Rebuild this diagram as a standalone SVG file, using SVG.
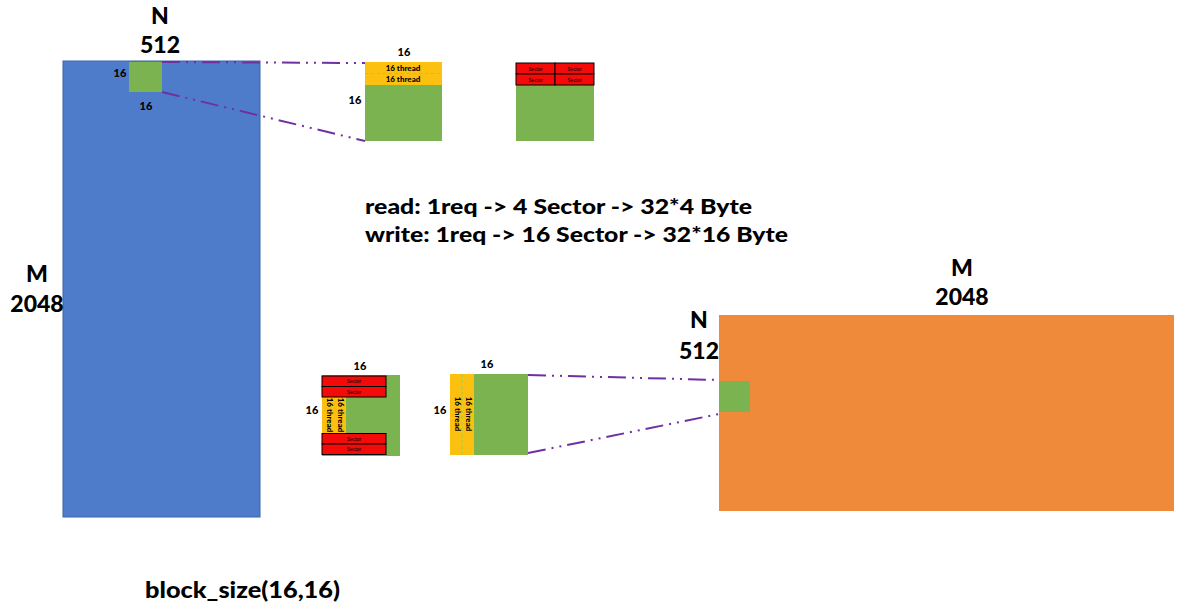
<svg xmlns="http://www.w3.org/2000/svg" width="1188" height="616" viewBox="0 0 1188 616">
<style>
.t{font-family:Lato,"Noto Sans","Liberation Sans",sans-serif;font-weight:900;fill:#000}
.big{font-size:23px}
.mid{font-size:21px}
.sm{font-size:11px}
.th{font-size:8px}
.sec{font-size:5px;font-family:"Liberation Sans",sans-serif;fill:#000}
.green{fill:#7ab34f}
.yel{fill:#fcc010}
.red{fill:#f50a0a;stroke:#000;stroke-width:1}
.conn{stroke:#7030a0;stroke-width:2;fill:none;stroke-dasharray:18 6 2 6 2 6}
.dash{stroke:#9acd50;stroke-width:1;stroke-dasharray:3 3}
</style>
<rect width="1188" height="616" fill="#fff"/>

<g id="matrixA">
<rect x="63" y="61" width="197" height="456" fill="#4f7cca" stroke="#3a63a8" stroke-width="1"/>
<text class="t big" x="160" y="24" text-anchor="middle">N</text>
<text class="t big" x="160" y="53" text-anchor="middle">512</text>
<text class="t big" x="37" y="282" text-anchor="middle">M</text>
<text class="t big" x="37" y="312" text-anchor="middle">2048</text>
<rect class="green" x="129" y="62" width="33" height="30"/>
<text class="t sm" x="120" y="77" text-anchor="middle">16</text>
<text class="t sm" x="146" y="110" text-anchor="middle">16</text>
</g>

<g id="readBlock">
<rect class="green" x="365" y="62" width="77" height="79"/>
<rect class="yel" x="365" y="62" width="77" height="23"/>
<line class="dash" x1="365" y1="73.5" x2="442" y2="73.5"/>
<text class="t th" x="403" y="71" text-anchor="middle">16 thread</text>
<text class="t th" x="403" y="82" text-anchor="middle">16 thread</text>
<text class="t sm" x="404" y="56" text-anchor="middle">16</text>
<text class="t sm" x="355" y="104" text-anchor="middle">16</text>
</g>

<g id="readSectors">
<rect class="green" x="516" y="63" width="78" height="78"/>
<rect class="red" x="516" y="63" width="39" height="11"/>
<rect class="red" x="555" y="63" width="39" height="11"/>
<rect class="red" x="516" y="74" width="39" height="11"/>
<rect class="red" x="555" y="74" width="39" height="11"/>
<text class="sec" x="535.5" y="70.5" text-anchor="middle">Sector</text>
<text class="sec" x="574.5" y="70.5" text-anchor="middle">Sector</text>
<text class="sec" x="535.5" y="81.5" text-anchor="middle">Sector</text>
<text class="sec" x="574.5" y="81.5" text-anchor="middle">Sector</text>
</g>

<g id="desc">
<text class="t mid" x="365" y="214" textLength="387" lengthAdjust="spacingAndGlyphs">read: 1req -&gt; 4 Sector -&gt; 32*4 Byte</text>
<text class="t mid" x="365" y="242" textLength="423" lengthAdjust="spacingAndGlyphs">write: 1req -&gt; 16 Sector -&gt; 32*16 Byte</text>
</g>

<g id="writeSectors">
<rect class="green" x="322" y="375" width="78" height="81"/>
<rect class="yel" x="322" y="397" width="24" height="36"/>
<text class="t th" transform="translate(327,415) rotate(90)" text-anchor="middle">16 thread</text>
<text class="t th" transform="translate(338,415) rotate(90)" text-anchor="middle">16 thread</text>
<rect class="red" x="322" y="376" width="64" height="10.5"/>
<rect class="red" x="322" y="386.5" width="64" height="10.5"/>
<rect class="red" x="322" y="433.5" width="64" height="10.5"/>
<rect class="red" x="322" y="444" width="64" height="10.5"/>
<text class="sec" x="354" y="383" text-anchor="middle">Sector</text>
<text class="sec" x="354" y="393.5" text-anchor="middle">Sector</text>
<text class="sec" x="354" y="440.5" text-anchor="middle">Sector</text>
<text class="sec" x="354" y="451" text-anchor="middle">Sector</text>
<text class="t sm" x="360" y="370" text-anchor="middle">16</text>
<text class="t sm" x="312" y="414" text-anchor="middle">16</text>
</g>

<g id="writeBlock">
<rect class="green" x="450" y="374" width="78" height="81"/>
<rect class="yel" x="450" y="374" width="24" height="81"/>
<line class="dash" x1="462" y1="374" x2="462" y2="455"/>
<text class="t th" transform="translate(455,414) rotate(90)" text-anchor="middle">16 thread</text>
<text class="t th" transform="translate(466,414) rotate(90)" text-anchor="middle">16 thread</text>
<text class="t sm" x="487" y="368" text-anchor="middle">16</text>
<text class="t sm" x="440" y="414" text-anchor="middle">16</text>
</g>

<g id="matrixB">
<rect x="719" y="315" width="455" height="196" fill="#ef8a3a"/>
<rect class="green" x="719" y="381" width="31" height="31"/>
<text class="t big" x="699" y="328" text-anchor="middle">N</text>
<text class="t big" x="699" y="359" text-anchor="middle">512</text>
<text class="t big" x="962" y="276" text-anchor="middle">M</text>
<text class="t big" x="962" y="305" text-anchor="middle">2048</text>
</g>

<g id="connectors">
<line class="conn" x1="162" y1="62" x2="365" y2="63"/>
<line class="conn" x1="162" y1="92" x2="365" y2="141"/>
<line class="conn" x1="528" y1="375" x2="719" y2="380"/>
<line class="conn" x1="528" y1="453" x2="719" y2="414"/>
</g>

<g id="caption">
<text class="t big" x="145" y="598" textLength="195" lengthAdjust="spacingAndGlyphs">block_size(16,16)</text>
</g>
</svg>
